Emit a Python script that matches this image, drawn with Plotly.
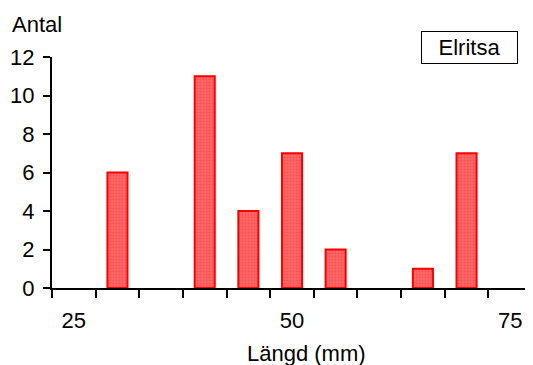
import plotly.graph_objects as go

categories = ["25", "30", "35", "40", "45", "50", "55", "60", "65", "70", "75"]
counts = [0, 6, 0, 11, 4, 7, 2, 0, 1, 7, 0]
tick_labels = ["25", "", "", "", "", "50", "", "", "", "", "75"]
y_ticks = [0, 2, 4, 6, 8, 10, 12]

# page has an 8px body margin, so figure coords = page coords - 8
OFF = 8
W, H = 533 - OFF, 365 - OFF
L, R, T, B = 52 - OFF, 1, 57 - OFF, 77
pw, ph = W - L - R, H - T - B

def px(xp):
    return (xp - OFF - L) / pw

def py(yp):
    return (H - B - (yp - OFF)) / ph

fig = go.Figure()
fig.add_trace(go.Bar(
    x=categories, y=[c if c > 0 else None for c in counts],
    marker=dict(
        color="rgb(255,95,95)",
        line=dict(color="#ff0000", width=2),
        pattern=dict(shape=".", fgcolor="rgb(248,80,80)", bgcolor="rgb(255,102,102)",
                     size=3, solidity=0.3, fillmode="replace"),
    ),
    showlegend=False,
))

font = dict(family="Liberation Sans, Arial, sans-serif", size=22, color="black")

fig.update_layout(
    width=W, height=H,
    margin=dict(l=L, r=R, t=T, b=B, autoexpand=False),
    paper_bgcolor="white", plot_bgcolor="white",
    bargap=0.54,
    font=font,
    xaxis=dict(
        type="category", categoryorder="array", categoryarray=categories,
        tickmode="array", tickvals=categories, ticktext=tick_labels,
        tickson="boundaries", ticks="outside", ticklen=8, tickwidth=2, tickcolor="black",
        showline=True, linecolor="black", linewidth=2, showgrid=False,
        tickfont=font, automargin=False, ticklabelstandoff=12,
    ),
    yaxis=dict(
        range=[0, 12], tickvals=y_ticks, ticks="outside", ticklen=7, tickwidth=2,
        tickcolor="black", showline=True, linecolor="black", linewidth=2,
        showgrid=False, zeroline=False, tickfont=font, automargin=False,
        ticklabelstandoff=4,
    ),
    annotations=[
        dict(text="Antal", xref="paper", yref="paper", x=px(10), y=py(24),
             xanchor="left", yanchor="middle", showarrow=False, font=font),
        dict(text="Längd (mm)", xref="paper", yref="paper", x=px(306), y=py(354),
             xanchor="center", yanchor="middle", showarrow=False, font=font),
        dict(text="Elritsa", xref="paper", yref="paper", x=px(469.5), y=py(47.5),
             xanchor="center", yanchor="middle", showarrow=False, font=font,
             bordercolor="black", borderwidth=1, borderpad=3, width=89, bgcolor="white"),
    ],
)

fig.write_html("out.html")
